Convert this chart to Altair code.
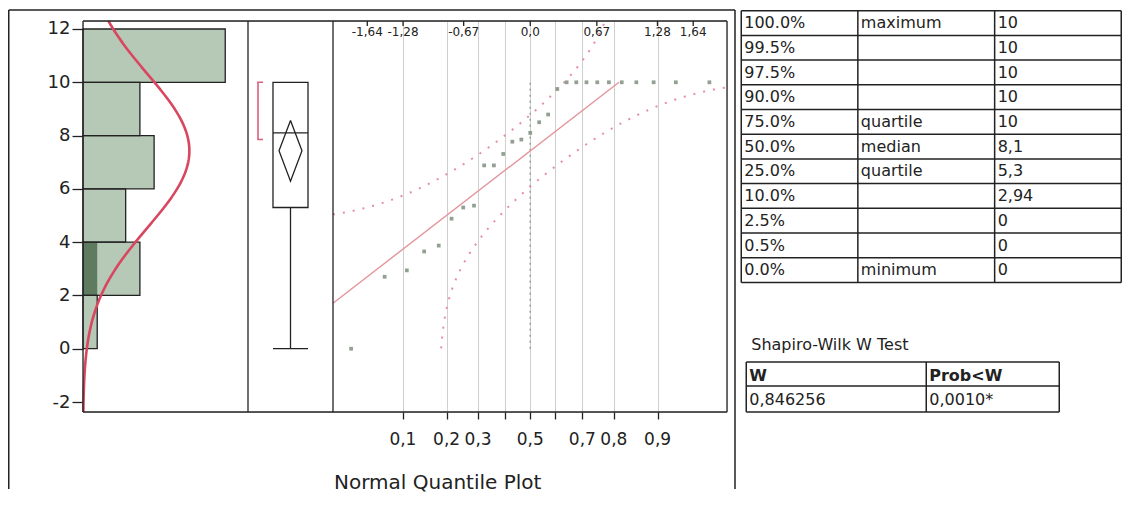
import numpy as np
import pandas as pd
import altair as alt
from statistics import NormalDist

# ---------------- data ----------------
VALUES = [0, 2.7, 2.94, 3.65, 3.87, 4.88, 5.3, 5.37, 6.88, 6.88, 7.31, 7.77, 7.85, 8.1,
          8.5, 8.79, 9.75, 10, 10, 10, 10, 10, 10, 10, 10, 10, 10]
SELECTED_VALUES = [2.7]              # highlighted row (dark part of a bar)
BIN_EDGES = [0, 2, 4, 6, 8, 10, 12]
Y_TICKS = [-2, 0, 2, 4, 6, 8, 10, 12]

BOX_MIN, BOX_Q1, BOX_MED, BOX_Q3, BOX_MAX = 0, 5.3, 8.1, 10, 10
SHORTEST_HALF = [7.85, 10]
T_CRIT = 2.056                       # t(0.975, n-1)
LILLIEFORS_D = 0.18

PROB_TICKS = [0.1, 0.2, 0.3, 0.4, 0.5, 0.6, 0.7, 0.8, 0.9]
PROB_LABELS = ["0,1", "0,2", "0,3", "", "0,5", "", "0,7", "0,8", "0,9"]
Z_TICKS = [-1.64, -1.28, -0.67, 0.0, 0.67, 1.28, 1.64]
Z_LABELS = ["-1,64", "-1,28", "-0,67", "0,0", "0,67", "1,28", "1,64"]

Q_PCT = ["100.0%", "99.5%", "97.5%", "90.0%", "75.0%", "50.0%", "25.0%", "10.0%", "2.5%", "0.5%", "0.0%"]
Q_NAME = ["maximum", "", "", "", "quartile", "median", "quartile", "", "", "", "minimum"]
Q_VAL = ["10", "10", "10", "10", "10", "8,1", "5,3", "2,94", "0", "0", "0"]

SW_TITLE = "Shapiro-Wilk W Test"
SW_HEAD = ["W", "Prob<W"]
SW_VALS = ["0,846256", "0,0010*"]
PLOT_TITLE = "Normal Quantile Plot"

# ---------------- derived ----------------
N = len(VALUES)
MEAN = float(np.mean(VALUES))
SD = float(np.std(VALUES, ddof=1))
ND = NormalDist()
FIT = NormalDist(MEAN, SD)
CI = T_CRIT * SD / np.sqrt(N)

# ---------------- layout / style ----------------
FONT = "DejaVu Sans"
INK = "#222222"
LIGHT = "#b6c8b6"
DARK = "#5f7b5f"
RED = "#d8465f"
PINK = "#e58fa2"
H = 391
A_W, B_W, C_W = 165, 85, 394
A_R = [0, A_W]
B_R = [A_W, A_W + B_W]
C_R = [A_W + B_W, A_W + B_W + C_W]
W = C_R[1]
TOP = -11
FRAME_L = -74.25
FRAME_R = W + 8
FRAME_BOTTOM = 468
Y_DOM = [-2.375, 12.3]
X_A_DOM = [0, 11.6]
Z_DOM = [-1.985, 1.98]

one = pd.DataFrame({"k": [0]})


def hline(x0, x1, y, color=INK, w=1.5):
    return alt.Chart(one).mark_rule(color=color, strokeWidth=w).encode(
        x=alt.value(x0), x2=alt.value(x1), y=alt.value(y))


def vline(x, y0, y1, color=INK, w=1.5):
    return alt.Chart(one).mark_rule(color=color, strokeWidth=w).encode(
        x=alt.value(x), y=alt.value(y0), y2=alt.value(y1))


def yS():
    return alt.Scale(domain=Y_DOM, nice=False, zero=False)


# ---------------- panel A: histogram ----------------
counts, _ = np.histogram(VALUES, bins=BIN_EDGES)
sel, _ = np.histogram(SELECTED_VALUES, bins=BIN_EDGES)
hist_df = pd.DataFrame({"lo": BIN_EDGES[:-1], "hi": BIN_EDGES[1:], "count": counts,
                        "sel": sel, "zero": 0})
sel_df = hist_df[hist_df["sel"] > 0]

A_YAXIS = alt.Axis(values=Y_TICKS, title=None, domain=False, grid=False, tickSize=11, orient="left",
                   tickColor=INK, tickWidth=1.3, labelFont=FONT, labelFontSize=18,
                   labelColor=INK, labelPadding=2, labelExpr="toString(datum.value)")


def xA(field):
    return alt.X(f"{field}:Q", scale=alt.Scale(domain=X_A_DOM, range=A_R, nice=False, zero=False),
                 axis=None)


def yA(field):
    return alt.Y(f"{field}:Q", scale=yS(), axis=A_YAXIS)


bars_fill = alt.Chart(hist_df).mark_rect(color=LIGHT).encode(
    x=xA("count"), x2="zero:Q", y=yA("lo"), y2="hi:Q")
sel_fill = alt.Chart(sel_df).mark_rect(color=DARK).encode(
    x=xA("sel"), x2="zero:Q", y=yA("lo"), y2="hi:Q")
bars_line = alt.Chart(hist_df).mark_rect(fillOpacity=0, stroke=INK, strokeWidth=1.3).encode(
    x=xA("count"), x2="zero:Q", y=yA("lo"), y2="hi:Q")

ys = np.linspace(Y_DOM[0], Y_DOM[1], 260)
curve_df = pd.DataFrame({"y": ys, "c": [N * 2 * FIT.pdf(v) for v in ys], "i": range(len(ys))})
curve = alt.Chart(curve_df).mark_line(color=RED, strokeWidth=2.6).encode(
    x=xA("c"), y=yA("y"), order="i:Q")

panel_a = alt.layer(bars_fill, sel_fill, bars_line, curve)

# ---------------- panel B: box plot ----------------
BOX_HALF, DIA_HALF = 0.412, 0.27
BR_X, BR_TICK = -0.765, -0.647


def xB(field):
    return alt.X(f"{field}:Q", scale=alt.Scale(domain=[-1, 1], range=B_R, nice=False, zero=False),
                 axis=None)


def yB(field):
    return alt.Y(f"{field}:Q", scale=yS(), axis=None)


box_df = pd.DataFrame({"q1": [BOX_Q1], "q3": [BOX_Q3], "med": [BOX_MED], "mn": [BOX_MIN],
                       "mx": [BOX_MAX], "l": [-BOX_HALF], "r": [BOX_HALF], "c": [0.0]})
box = alt.Chart(box_df).mark_rect(fill="white", stroke=INK, strokeWidth=1.3).encode(
    x=xB("l"), x2="r:Q", y=yB("q1"), y2="q3:Q")
median = alt.Chart(box_df).mark_rule(color=INK, strokeWidth=1.3).encode(
    x=xB("l"), x2="r:Q", y=yB("med"))
whisk_lo = alt.Chart(box_df).mark_rule(color=INK, strokeWidth=1.3).encode(
    x=xB("c"), y=yB("mn"), y2="q1:Q")
whisk_hi = alt.Chart(box_df).mark_rule(color=INK, strokeWidth=1.3).encode(
    x=xB("c"), y=yB("q3"), y2="mx:Q")
cap = alt.Chart(box_df).mark_rule(color=INK, strokeWidth=1.3).encode(
    x=xB("l"), x2="r:Q", y=yB("mn"))
dia_df = pd.DataFrame({
    "x": [0, DIA_HALF, 0, -DIA_HALF, 0],
    "y": [MEAN + CI, MEAN, MEAN - CI, MEAN, MEAN + CI],
    "i": range(5)})
diamond = alt.Chart(dia_df).mark_line(color=INK, strokeWidth=1.3).encode(
    x=xB("x"), y=yB("y"), order="i:Q")
br_df = pd.DataFrame({
    "x": [BR_TICK, BR_X, BR_X, BR_TICK],
    "y": [SHORTEST_HALF[1], SHORTEST_HALF[1], SHORTEST_HALF[0], SHORTEST_HALF[0]],
    "i": range(4)})
bracket = alt.Chart(br_df).mark_line(color="#d9607e", strokeWidth=1.6).encode(
    x=xB("x"), y=yB("y"), order="i:Q")

panel_b = alt.layer(box, median, whisk_lo, whisk_hi, cap, diamond, bracket)

# ---------------- panel C: normal quantile plot ----------------
prob_z = [ND.inv_cdf(p) for p in PROB_TICKS]
C_XAXIS = alt.Axis(values=prob_z, labels=False, title=None, domain=False, grid=True, orient="bottom",
                   gridColor="#cfcfcf", gridWidth=1, tickSize=7, tickColor=INK, tickWidth=1.3)


def xC(field):
    return alt.X(f"{field}:Q", scale=alt.Scale(domain=Z_DOM, range=C_R, nice=False, zero=False),
                 axis=C_XAXIS)


def yC(field):
    return alt.Y(f"{field}:Q", scale=yS(), axis=None)


svals = sorted(VALUES)
pts_df = pd.DataFrame({"z": [ND.inv_cdf((i + 1) / (N + 1)) for i in range(N)], "v": svals})
points = alt.Chart(pts_df).mark_square(size=14, color="#869686", opacity=0.9).encode(
    x=xC("z"), y=yC("v"))

z_lo = max((min(VALUES) - MEAN) / SD, Z_DOM[0])
z_hi = min((max(VALUES) - MEAN) / SD, Z_DOM[1])
line_df = pd.DataFrame({"z": [z_lo, z_hi], "v": [MEAN + SD * z_lo, MEAN + SD * z_hi]})
fit_line = alt.Chart(line_df).mark_line(color="#e4949c", strokeWidth=1.4).encode(
    x=xC("z"), y=yC("v"))

zs = np.linspace(Z_DOM[0], Z_DOM[1], 500)
up_rows, lo_rows = [], []
for z in zs:
    p = ND.cdf(z)
    if p + LILLIEFORS_D < 0.9995:
        v = MEAN + SD * ND.inv_cdf(p + LILLIEFORS_D)
        if v <= Y_DOM[1]:
            up_rows.append((z, v))
    if p - LILLIEFORS_D > 0.0005:
        v = MEAN + SD * ND.inv_cdf(p - LILLIEFORS_D)
        if v >= min(VALUES):
            lo_rows.append((z, v))
up_df = pd.DataFrame(up_rows, columns=["z", "v"])
lo_df = pd.DataFrame(lo_rows, columns=["z", "v"])
band_up = alt.Chart(up_df).mark_line(color=PINK, strokeWidth=2, strokeDash=[2, 8]).encode(
    x=xC("z"), y=yC("v"))
band_lo = alt.Chart(lo_df).mark_line(color=PINK, strokeWidth=2, strokeDash=[2, 8]).encode(
    x=xC("z"), y=yC("v"))

mid_df = pd.DataFrame({"z": [0.0], "a": [min(VALUES)], "b": [max(VALUES)]})
mid_rule = alt.Chart(mid_df).mark_rule(color="#98a898", strokeWidth=1.6, strokeDash=[2, 4]).encode(
    x=xC("z"), y=yC("a"), y2="b:Q")

top_df = pd.DataFrame({"z": Z_TICKS, "lab": Z_LABELS})
top_ticks = alt.Chart(top_df).mark_rule(color=INK, strokeWidth=1.3).encode(
    x=xC("z"), y=alt.value(0), y2=alt.value(5))
top_labels = alt.Chart(top_df).mark_text(font=FONT, fontSize=12, color=INK, baseline="middle").encode(
    x=xC("z"), y=alt.value(11), text="lab:N")

bot_df = pd.DataFrame({"z": prob_z, "lab": PROB_LABELS})
bot_df = bot_df[bot_df["lab"] != ""]
bot_labels = alt.Chart(bot_df).mark_text(font=FONT, fontSize=17, color=INK, baseline="middle").encode(
    x=xC("z"), y=alt.value(H + 28), text="lab:N")

panel_c = alt.layer(mid_rule, band_up, band_lo, fit_line, points, top_ticks, top_labels, bot_labels)

# ---------------- panel T: tables ----------------
T0 = 658.25
T_W = 380
xT = alt.Scale(domain=[0, T_W], range=[T0, T0 + T_W], nice=False, zero=False)
yT = alt.Scale(domain=[0, H], range=[0, H], nice=False, zero=False)

T1_COLS = [0, 116.6, 253.4, 380]
T1_TOP = -10.3
ROW_H = 24.7
T2_COLS = [5, 185, 318]
T2_ROWS = [341, 365, 391]

lines = []
nrow = len(Q_PCT)
for r in range(nrow + 1):
    y = T1_TOP + r * ROW_H
    lines.append((T1_COLS[0], T1_COLS[-1], y, y))
for c in T1_COLS:
    lines.append((c, c, T1_TOP, T1_TOP + nrow * ROW_H))
for y in T2_ROWS:
    lines.append((T2_COLS[0], T2_COLS[-1], y, y))
for c in T2_COLS:
    lines.append((c, c, T2_ROWS[0], T2_ROWS[-1]))
lines_df = pd.DataFrame(lines, columns=["x", "x2", "y", "y2"])
t_lines = alt.Chart(lines_df).mark_rule(color=INK, strokeWidth=1.5).encode(
    x=alt.X("x:Q", scale=xT, axis=None), x2="x2:Q",
    y=alt.Y("y:Q", scale=yT, axis=None), y2="y2:Q")

texts = []
for r in range(nrow):
    yb = T1_TOP + r * ROW_H + 17.5
    for c, s in enumerate([Q_PCT[r], Q_NAME[r], Q_VAL[r]]):
        if s:
            texts.append((T1_COLS[c] + 3, yb, s))
for c, s in enumerate(SW_VALS):
    texts.append((T2_COLS[c] + 3, T2_ROWS[1] + 19, s))
texts.append((10, 329, SW_TITLE))
text_df = pd.DataFrame(texts, columns=["x", "y", "s"])
t_text = alt.Chart(text_df).mark_text(font=FONT, fontSize=16, color=INK, align="left",
                                      baseline="alphabetic").encode(
    x=alt.X("x:Q", scale=xT, axis=None), y=alt.Y("y:Q", scale=yT, axis=None), text="s:N")
head_df = pd.DataFrame({"x": [T2_COLS[0] + 3, T2_COLS[1] + 3], "y": [T2_ROWS[0] + 19] * 2,
                        "s": SW_HEAD})
t_head = alt.Chart(head_df).mark_text(font=FONT, fontSize=16, fontWeight="bold", color=INK,
                                      align="left", baseline="alphabetic").encode(
    x=alt.X("x:Q", scale=xT, axis=None), y=alt.Y("y:Q", scale=yT, axis=None), text="s:N")

panel_t = alt.layer(t_lines, t_text, t_head)

# ---------------- frame, plot borders, separators, title ----------------
title_df = pd.DataFrame({"t": [PLOT_TITLE]})
title_c = alt.Chart(title_df).mark_text(font=FONT, fontSize=20, color=INK, align="left",
                                        baseline="middle").encode(
    x=alt.value(C_R[0] + 1), y=alt.value(H + 71), text="t:N")

deco = alt.layer(
    hline(0, W, 0, w=1.3), hline(0, W, H, w=1.3), vline(0, 0, H, w=1.3), vline(W, 0, H, w=1.3),
    vline(A_W, 0, H, w=1.3), vline(A_W + B_W, 0, H, w=1.3),
    hline(FRAME_L, FRAME_R, TOP), vline(FRAME_L, TOP, FRAME_BOTTOM), vline(FRAME_R, TOP, FRAME_BOTTOM),
    title_c,
)

chart = alt.layer(panel_a, panel_b, panel_c, panel_t, deco).resolve_scale(
    x="independent", y="independent"
).properties(
    width=W, height=H, padding={"left": 0, "top": 1, "right": 0, "bottom": 0}
).configure_view(stroke=None).configure(background="white")

chart.save("out.html", embed_options={"renderer": "svg", "actions": False})
